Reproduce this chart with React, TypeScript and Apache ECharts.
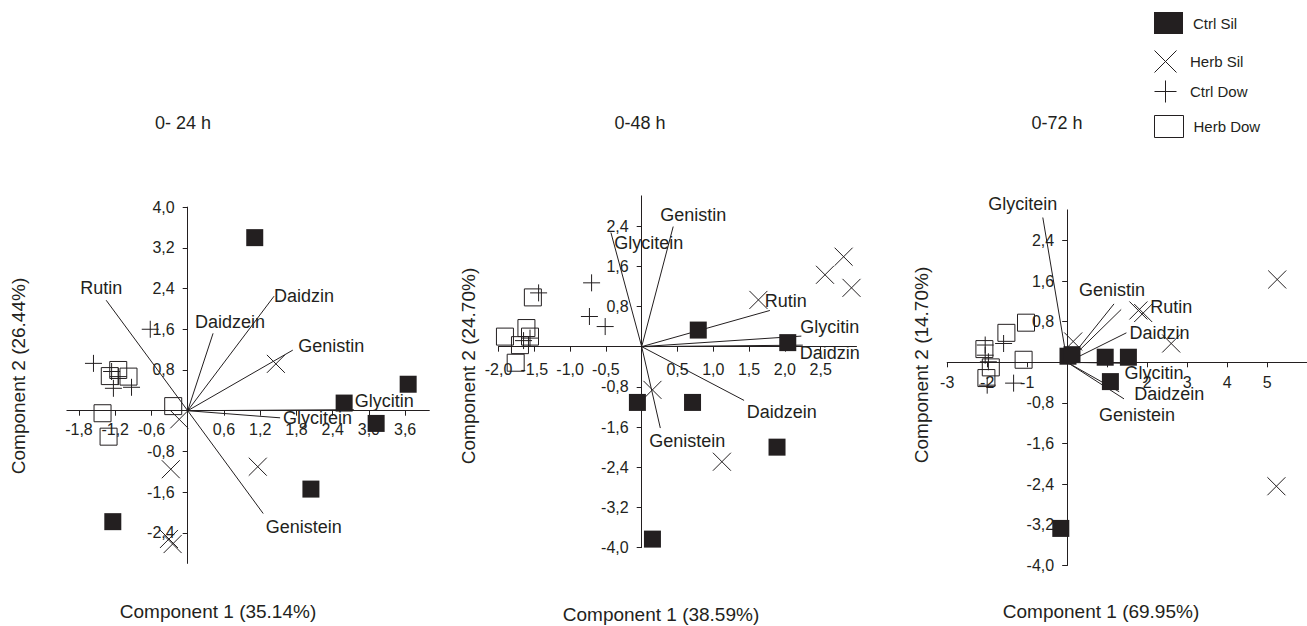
import React, { useEffect, useRef } from "react";
import * as echarts from "echarts";

const FONT = '"Liberation Sans", Arial, Helvetica, sans-serif';
const INK = "#231f20";

// ---------- legend / groups ----------
const groupNames = ["Ctrl Sil", "Herb Sil", "Ctrl Dow", "Herb Dow"];

// ---------- panel titles ----------
const panelTitles = ["0- 24 h", "0-48 h", "0-72 h"];
const xAxisTitles = ["Component 1 (35.14%)", "Component 1 (38.59%)", "Component 1 (69.95%)"];
const yAxisTitles = ["Component 2 (26.44%)", "Component 2 (24.70%)", "Component 2 (14.70%)"];

// ---------- tick labels ----------
const xTicks1 = [-1.8, -1.2, -0.6, 0.6, 1.2, 1.8, 2.4, 3.0, 3.6];
const yTicks1 = [-2.4, -1.6, -0.8, 0.8, 1.6, 2.4, 3.2, 4.0];
const xTicks2 = [-2.0, -1.5, -1.0, -0.5, 0.5, 1.0, 1.5, 2.0, 2.5];
const yTicks2 = [-4.0, -3.2, -2.4, -1.6, -0.8, 0.8, 1.6, 2.4];
const xTicks3 = [-3, -2, -1, 1, 2, 3, 4, 5];
const yTicks3 = [-4.0, -3.2, -2.4, -1.6, -0.8, 0.8, 1.6, 2.4];

// ---------- panel 1 (0-24 h) scores ----------
const ctrlSil1 = [[1.11, 3.4], [3.65, 0.52], [2.59, 0.15], [3.12, -0.25], [2.04, -1.54], [-1.24, -2.18]];
const herbSil1 = [[1.46, 0.92], [-0.14, -0.17], [-0.28, -1.15], [1.16, -1.1], [-0.31, -2.52], [-0.25, -2.62]];
const ctrlDow1 = [[-0.62, 1.6], [-1.56, 0.93], [-1.26, 0.77], [-1.23, 0.44], [-0.93, 0.46], [-1.15, 0.67]];
const herbDow1 = [[-1.15, 0.8], [-1.29, 0.68], [-0.98, 0.67], [-1.41, -0.05], [-1.31, -0.51], [-0.24, 0.09]];
// loadings
const load1Names = ["Rutin", "Daidzein", "Daidzin", "Genistin", "Glycitein", "Glycitin", "Genistein"];
const load1X = [-1.35, 0.42, 1.43, 1.74, 1.53, 2.75, 1.25];
const load1Y = [2.17, 1.52, 2.25, 1.19, -0.14, 0.02, -2.02];

// ---------- panel 2 (0-48 h) ----------
const ctrlSil2 = [[0.79, 0.33], [2.04, 0.08], [-0.06, -1.11], [0.71, -1.11], [1.89, -2.0], [0.15, -3.83]];
const herbSil2 = [[2.82, 1.79], [2.56, 1.43], [2.93, 1.17], [1.63, 0.93], [0.15, -0.86], [1.12, -2.29]];
const ctrlDow2 = [[-0.7, 1.27], [-1.44, 1.07], [-0.73, 0.6], [-0.51, 0.4], [-1.65, 0.12], [-1.56, 0.17]];
const herbDow2 = [[-1.52, 0.98], [-1.91, 0.2], [-1.61, 0.37], [-1.56, 0.2], [-1.7, 0.03], [-1.76, -0.32]];
const load2Names = ["Genistin", "Glycitein", "Rutin", "Glycitin", "Daidzin", "Daidzein", "Genistein"];
const load2X = [0.44, -0.43, 1.79, 2.23, 2.25, 1.43, 0.26];
const load2Y = [2.39, 2.27, 0.72, 0.21, 0.03, -1.07, -1.62];

// ---------- panel 3 (0-72 h) ----------
const ctrlSil3 = [[0.02, 0.12], [0.12, 0.15], [0.95, 0.1], [1.53, 0.1], [1.08, -0.38], [-0.16, -3.27]];
const herbSil3 = [[5.25, 1.63], [5.23, -2.44], [1.78, 1.02], [1.9, 0.97], [2.6, 0.37], [0.15, 0.41]];
const ctrlDow3 = [[-1.59, 0.37], [-2.05, 0.14], [-1.97, 0.01], [-2.0, -0.45], [-1.34, -0.41], [-2.05, 0.34]];
const herbDow3 = [[-1.03, 0.78], [-1.52, 0.58], [-2.07, 0.26], [-1.09, 0.05], [-1.91, -0.1], [-2.02, -0.31]];
const load3Names = ["Glycitein", "Genistin", "Rutin", "Daidzin", "Glycitin", "Daidzein", "Genistein"];
const load3X = [-0.61, 1.17, 1.35, 1.48, 1.5, 1.3, 1.42];
const load3Y = [2.85, 1.15, 1.04, 0.58, -0.02, -0.58, -0.72];

// ---------- layout (label offsets in px, relative to vector tip; left aligned) ----------
const labelOffsets1 = [[-26, -12], [-18, -11], [0, 0], [5.5, -4.5], [3, 0.5], [1, -9], [2.5, 13]];
const labelOffsets2 = [[-13, -12], [3.4, 10.7], [-5, -9], [-1, -9.5], [-3, 8], [2.6, 12], [-11, 12.6]];
const labelOffsets3 = [[-54.5, -13.5], [-35, -14], [29, -2], [3, 0], [-2.6, 10], [15, 2], [-25, 16]];

const grids = [
  { left: 66.9, top: 207.1, width: 362.4, height: 356.3 },
  { left: 498.5, top: 195.9, width: 358, height: 351.75 },
  { left: 947.2, top: 209.9, width: 360, height: 355.6 },
];
const xRanges = [[-2, 4], [-2, 3], [-3, 6]];
const yRanges = [[-3, 4], [-4, 3], [-4, 3]];
const xTickSets = [xTicks1, xTicks2, xTicks3];
const yTickSets = [yTicks1, yTicks2, yTicks3];
const xLabelMargins = [11, 15, 12];

const SYM_X = "path://M0,0L10,10M10,0L0,10";
const SYM_PLUS = "path://M5,0L5,10M0,5L10,5";
const clear = "rgba(0,0,0,0)";

const groupStyles: any[] = [
  { symbol: "rect", size: 17, itemStyle: { color: INK, borderWidth: 0, opacity: 1 } },
  { symbol: SYM_X, size: 18, itemStyle: { color: clear, borderColor: INK, borderWidth: 1, opacity: 1 } },
  { symbol: SYM_PLUS, size: 17, itemStyle: { color: clear, borderColor: INK, borderWidth: 1, opacity: 1 } },
  { symbol: "rect", size: 17, itemStyle: { color: clear, borderColor: INK, borderWidth: 1, opacity: 1 } },
];

const comma = (v: number) => v.toFixed(1).replace(".", ",");

function buildOption() {
  const panels = [
    { groups: [ctrlSil1, herbSil1, ctrlDow1, herbDow1], names: load1Names, lx: load1X, ly: load1Y, off: labelOffsets1 },
    { groups: [ctrlSil2, herbSil2, ctrlDow2, herbDow2], names: load2Names, lx: load2X, ly: load2Y, off: labelOffsets2 },
    { groups: [ctrlSil3, herbSil3, ctrlDow3, herbDow3], names: load3Names, lx: load3X, ly: load3Y, off: labelOffsets3 },
  ];

  const series: any[] = [];
  panels.forEach((p, pi) => {
    const names = p.names;
    const off = p.off;
    series.push({
      type: "custom",
      xAxisIndex: pi,
      yAxisIndex: pi,
      z: 2,
      clip: false,
      silent: true,
      data: names.map((_, i) => [p.lx[i], p.ly[i]]),
      renderItem: (params: any, api: any) => {
        const start = api.coord([0, 0]);
        const end = api.coord([api.value(0), api.value(1)]);
        const o = off[params.dataIndex];
        return {
          type: "group",
          children: [
            {
              type: "line",
              shape: { x1: start[0], y1: start[1], x2: end[0], y2: end[1] },
              style: { stroke: INK, lineWidth: 1 },
            },
            {
              type: "text",
              x: end[0] + o[0],
              y: end[1] + o[1],
              style: {
                text: names[params.dataIndex],
                fill: INK,
                fontSize: 18,
                fontFamily: FONT,
                align: "left",
                verticalAlign: "middle",
              },
            },
          ],
        };
      },
    });
    p.groups.forEach((g, gi) => {
      const st = groupStyles[gi];
      series.push({
        type: "scatter",
        name: groupNames[gi],
        xAxisIndex: pi,
        yAxisIndex: pi,
        z: 3,
        silent: true,
        symbol: st.symbol,
        symbolSize: st.size,
        itemStyle: st.itemStyle,
        data: g,
      });
    });
  });

  // axes cross at the origin: shift each axis from the grid edge to the zero line
  const xAxis = grids.map((g, i) => {
    const [y0, y1] = yRanges[i];
    const shift = ((0 - y0) / (y1 - y0)) * g.height;
    return {
      type: "value",
      gridIndex: i,
      position: "bottom",
      offset: -shift,
      min: xRanges[i][0],
      max: xRanges[i][1],
      axisLine: { show: true, onZero: false, lineStyle: { color: INK, width: 1 } },
      axisTick: { show: true, length: 5, lineStyle: { color: INK, width: 1 }, customValues: xTickSets[i] },
      axisLabel: {
        customValues: xTickSets[i],
        formatter: i === 2 ? (v: number) => String(v) : comma,
        fontSize: 16,
        fontFamily: FONT,
        color: INK,
        margin: xLabelMargins[i],
      },
      splitLine: { show: false },
    };
  });
  const yAxis = grids.map((g, i) => {
    const [x0, x1] = xRanges[i];
    const shift = ((0 - x0) / (x1 - x0)) * g.width;
    return {
      type: "value",
      gridIndex: i,
      position: "left",
      offset: -shift,
      min: yRanges[i][0],
      max: yRanges[i][1],
      axisLine: { show: true, onZero: false, lineStyle: { color: INK, width: 1 } },
      axisTick: { show: true, length: 5, lineStyle: { color: INK, width: 1 }, customValues: yTickSets[i] },
      axisLabel: {
        customValues: yTickSets[i],
        formatter: comma,
        fontSize: 16,
        fontFamily: FONT,
        color: INK,
        margin: 13,
      },
      splitLine: { show: false },
    };
  });

  const legendTops = [12, 50, 80, 115];
  const legend = groupNames.map((n, i) => ({
    orient: "vertical",
    left: 1154,
    top: legendTops[i],
    padding: 0,
    itemWidth: 29,
    itemHeight: 22,
    selectedMode: false,
    textStyle: { fontSize: 15, fontFamily: FONT, color: INK, padding: [0, 0, 2, 5] },
    data: [{ name: n, icon: groupStyles[i].symbol, itemStyle: groupStyles[i].itemStyle }],
  }));

  const titlePos = [[183, 123], [640, 123], [1057, 123]];
  const xTitlePos = [[218, 611], [661, 614], [1101, 611]];
  const yTitlePos = [[18.3, 376], [468.3, 366], [921.7, 365]];
  const textStyle = (t: string, size: number) => ({
    text: t,
    fill: INK,
    fontSize: size,
    fontFamily: FONT,
    align: "center",
    verticalAlign: "middle",
  });
  const graphic: any[] = [];
  panelTitles.forEach((t, i) =>
    graphic.push({ type: "text", x: titlePos[i][0], y: titlePos[i][1], style: textStyle(t, 18) })
  );
  xAxisTitles.forEach((t, i) =>
    graphic.push({ type: "text", x: xTitlePos[i][0], y: xTitlePos[i][1], style: textStyle(t, 19) })
  );
  yAxisTitles.forEach((t, i) =>
    graphic.push({
      type: "text",
      x: yTitlePos[i][0],
      y: yTitlePos[i][1],
      rotation: Math.PI / 2,
      style: textStyle(t, 19),
    })
  );

  return {
    animation: false,
    backgroundColor: "#ffffff",
    grid: grids.map((g) => ({ ...g, containLabel: false, outerBoundsMode: "none" })),
    xAxis,
    yAxis,
    legend,
    graphic,
    series,
  };
}

export default function App() {
  const ref = useRef<HTMLDivElement>(null);
  useEffect(() => {
    if (!ref.current) return;
    const chart = echarts.init(ref.current, undefined, { renderer: "svg" });
    chart.setOption(buildOption() as any);
    return () => chart.dispose();
  }, []);
  return (
    <div
      ref={ref}
      style={{ position: "fixed", left: 0, top: 0, width: 1307, height: 626, background: "#fff" }}
    />
  );
}
